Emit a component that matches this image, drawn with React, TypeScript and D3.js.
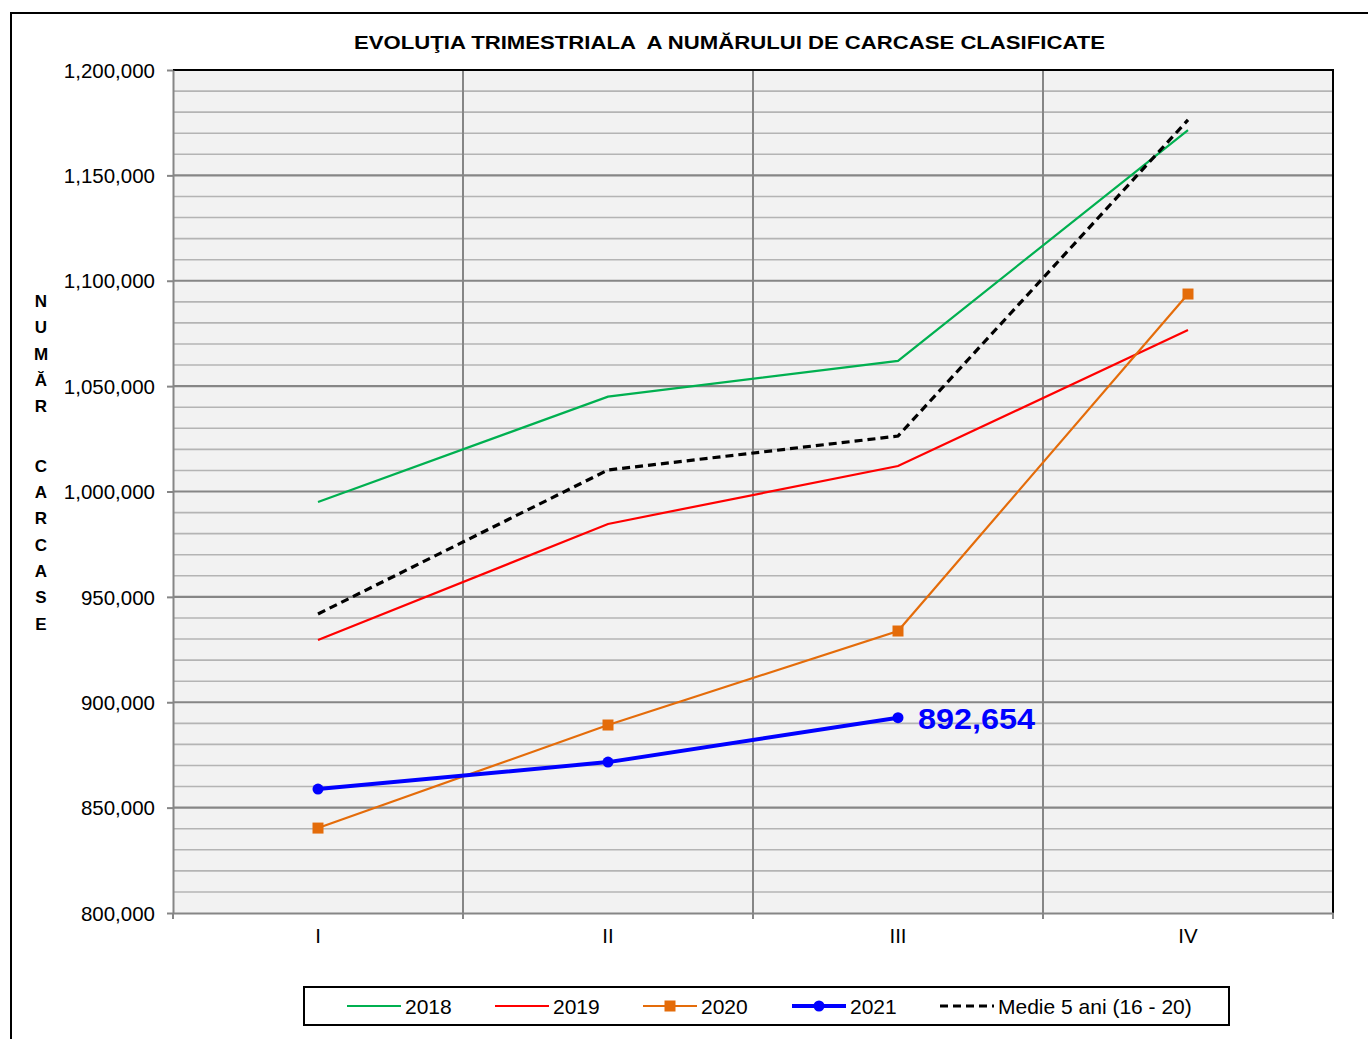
import React, { useRef, useEffect } from 'react';
import * as d3 from 'd3';

const QUARTERS = ['I', 'II', 'III', 'IV'];
const Y_TICKS = [800000, 850000, 900000, 950000, 1000000, 1050000, 1100000, 1150000, 1200000];

const S2018 = [995000, 1045000, 1062000, 1171500];
const S2019 = [929500, 984600, 1012100, 1076600];
const S2020 = [840300, 889200, 933800, 1093700];
const S2021 = [858800, 871600, 892654];
const MEDIE = [941900, 1010200, 1026300, 1176300];

const TITLE = 'EVOLUŢIA TRIMESTRIALA  A NUMĂRULUI DE CARCASE CLASIFICATE';
const Y_TITLE = ['N', 'U', 'M', 'Ă', 'R', '', 'C', 'A', 'R', 'C', 'A', 'S', 'E'];

interface Series {
  name: string;
  values: number[];
  color: string;
  width: number;
  dash?: string;
  marker?: 'square' | 'circle';
}

const SERIES: Series[] = [
  { name: '2018', values: S2018, color: '#00B050', width: 2.2 },
  { name: '2019', values: S2019, color: '#FF0000', width: 2.2 },
  { name: '2020', values: S2020, color: '#E46C0A', width: 2.2, marker: 'square' },
  { name: '2021', values: S2021, color: '#0000FF', width: 4, marker: 'circle' },
  { name: 'Medie 5 ani (16 - 20)', values: MEDIE, color: '#000000', width: 3.2, dash: '8,5' },
];

const FONT = 'Liberation Sans, Arial, sans-serif';

export default function App() {
  const ref = useRef<SVGSVGElement | null>(null);

  useEffect(() => {
    const svg = d3.select(ref.current);
    svg.selectAll('*').remove();

    const W = 1368;
    const H = 1039;
    const plot = { left: 173, top: 70, right: 1333, bottom: 913 };

    // outer frame
    svg.append('rect')
      .attr('x', 11).attr('y', 13)
      .attr('width', W + 20).attr('height', H + 20)
      .attr('fill', '#fff')
      .attr('stroke', '#000')
      .attr('stroke-width', 2);

    const x = d3.scaleBand()
      .domain(QUARTERS)
      .range([plot.left, plot.right]);

    const y = d3.scaleLinear()
      .domain([800000, 1200000])
      .range([plot.bottom, plot.top]);

    const cx = (i: number) => x(QUARTERS[i])! + x.bandwidth() / 2;

    // plot background
    svg.append('rect')
      .attr('x', plot.left).attr('y', plot.top)
      .attr('width', plot.right - plot.left)
      .attr('height', plot.bottom - plot.top)
      .attr('fill', '#F2F2F2');

    // minor grid (every 10,000)
    const minor = d3.range(810000, 1200000, 10000).filter(v => v % 50000 !== 0);
    svg.append('g')
      .selectAll('line')
      .data(minor)
      .join('line')
      .attr('x1', plot.left).attr('x2', plot.right)
      .attr('y1', d => y(d)).attr('y2', d => y(d))
      .attr('stroke', '#B4B4B4')
      .attr('stroke-width', 1.6);

    // major grid
    svg.append('g')
      .selectAll('line')
      .data(Y_TICKS.slice(1, -1))
      .join('line')
      .attr('x1', plot.left).attr('x2', plot.right)
      .attr('y1', d => y(d)).attr('y2', d => y(d))
      .attr('stroke', '#868686')
      .attr('stroke-width', 2.2);

    // vertical grid at category boundaries
    const bounds = QUARTERS.map(q => x(q)!).slice(1);
    svg.append('g')
      .selectAll('line')
      .data(bounds)
      .join('line')
      .attr('x1', d => d).attr('x2', d => d)
      .attr('y1', plot.top).attr('y2', plot.bottom)
      .attr('stroke', '#868686')
      .attr('stroke-width', 2);

    // top and right border
    svg.append('path')
      .attr('d', `M${plot.left},${plot.top}H${plot.right}V${plot.bottom}`)
      .attr('fill', 'none')
      .attr('stroke', '#000')
      .attr('stroke-width', 2);

    // Y axis
    const yAxis = svg.append('g')
      .attr('transform', `translate(${plot.left},0)`)
      .call(d3.axisLeft(y).tickValues(Y_TICKS).tickSize(6).tickSizeOuter(0)
        .tickFormat(d => d3.format(',')(+d)));
    yAxis.select('.domain').attr('stroke', '#868686').attr('stroke-width', 2);
    yAxis.selectAll('.tick line').attr('stroke', '#868686').attr('stroke-width', 2);
    yAxis.selectAll('.tick text')
      .attr('x', -18)
      .attr('dy', '0.35em')
      .attr('fill', '#000')
      .attr('font-size', 20.5)
      .attr('font-family', FONT);

    // X axis
    const xAxis = svg.append('g')
      .attr('transform', `translate(0,${plot.bottom})`)
      .call(d3.axisBottom(x).tickSize(0).tickSizeOuter(0));
    xAxis.select('.domain').attr('stroke', '#868686').attr('stroke-width', 2);
    xAxis.selectAll('.tick text')
      .attr('y', 15)
      .attr('dy', '0.71em')
      .attr('fill', '#000')
      .attr('font-size', 20.5)
      .attr('font-family', FONT);
    svg.append('g')
      .selectAll('line')
      .data([plot.left, ...bounds, plot.right])
      .join('line')
      .attr('x1', d => d).attr('x2', d => d)
      .attr('y1', plot.bottom).attr('y2', plot.bottom + 6)
      .attr('stroke', '#868686')
      .attr('stroke-width', 2);

    // Title
    svg.append('text')
      .attr('x', 354)
      .attr('y', 49)
      .attr('font-size', 18.5)
      .attr('font-weight', 'bold')
      .attr('font-family', FONT)
      .attr('textLength', 751)
      .attr('lengthAdjust', 'spacingAndGlyphs')
      .style('white-space', 'pre')
      .text(TITLE);

    // vertical Y title
    svg.append('g')
      .selectAll('text')
      .data(Y_TITLE)
      .join('text')
      .attr('x', 41)
      .attr('y', (_, i) => 307 + i * 26.3 + (i > 5 ? 7 : 0))
      .attr('text-anchor', 'middle')
      .attr('font-size', 17)
      .attr('font-weight', 'bold')
      .attr('font-family', FONT)
      .text(d => d);

    // Lines
    const line = d3.line<number>()
      .x((_, i) => cx(i))
      .y(d => y(d));

    SERIES.forEach(s => {
      svg.append('path')
        .datum(s.values)
        .attr('d', line)
        .attr('fill', 'none')
        .attr('stroke', s.color)
        .attr('stroke-width', s.width)
        .attr('stroke-dasharray', s.dash ?? null);
      if (s.marker === 'square') {
        svg.append('g').selectAll('rect')
          .data(s.values)
          .join('rect')
          .attr('x', (_, i) => cx(i) - 5.5)
          .attr('y', d => y(d) - 5.5)
          .attr('width', 11).attr('height', 11)
          .attr('fill', s.color);
      } else if (s.marker === 'circle') {
        svg.append('g').selectAll('circle')
          .data(s.values)
          .join('circle')
          .attr('cx', (_, i) => cx(i))
          .attr('cy', d => y(d))
          .attr('r', 5.5)
          .attr('fill', s.color);
      }
    });

    // last value label for 2021
    const lastIdx = S2021.length - 1;
    svg.append('text')
      .attr('x', cx(lastIdx) + 20)
      .attr('y', y(S2021[lastIdx]) + 11)
      .attr('fill', '#0000FF')
      .attr('font-size', 29)
      .attr('font-weight', 'bold')
      .attr('font-family', FONT)
      .attr('textLength', 117)
      .attr('lengthAdjust', 'spacingAndGlyphs')
      .text(d3.format(',')(S2021[lastIdx]));

    // Legend
    const legend = svg.append('g');
    legend.append('rect')
      .attr('x', 304).attr('y', 987)
      .attr('width', 925).attr('height', 38)
      .attr('fill', '#fff')
      .attr('stroke', '#000')
      .attr('stroke-width', 2);
    const legendX = [347, 495, 643, 792, 940];
    SERIES.forEach((s, i) => {
      const lx = legendX[i];
      const ly = 1006;
      legend.append('line')
        .attr('x1', lx).attr('x2', lx + 54)
        .attr('y1', ly).attr('y2', ly)
        .attr('stroke', s.color)
        .attr('stroke-width', s.width)
        .attr('stroke-dasharray', s.dash ?? null);
      if (s.marker === 'square') {
        legend.append('rect')
          .attr('x', lx + 27 - 5.5).attr('y', ly - 5.5)
          .attr('width', 11).attr('height', 11)
          .attr('fill', s.color);
      } else if (s.marker === 'circle') {
        legend.append('circle')
          .attr('cx', lx + 27).attr('cy', ly)
          .attr('r', 5.5)
          .attr('fill', s.color);
      }
      legend.append('text')
        .attr('x', lx + 58)
        .attr('y', ly + 7.5)
        .attr('font-size', 21)
        .attr('font-family', FONT)
        .text(s.name);
    });
  }, []);

  return (
    <svg
      ref={ref}
      width={1368}
      height={1039}
      style={{ position: 'absolute', left: 0, top: 0, background: '#fff' }}
    />
  );
}
